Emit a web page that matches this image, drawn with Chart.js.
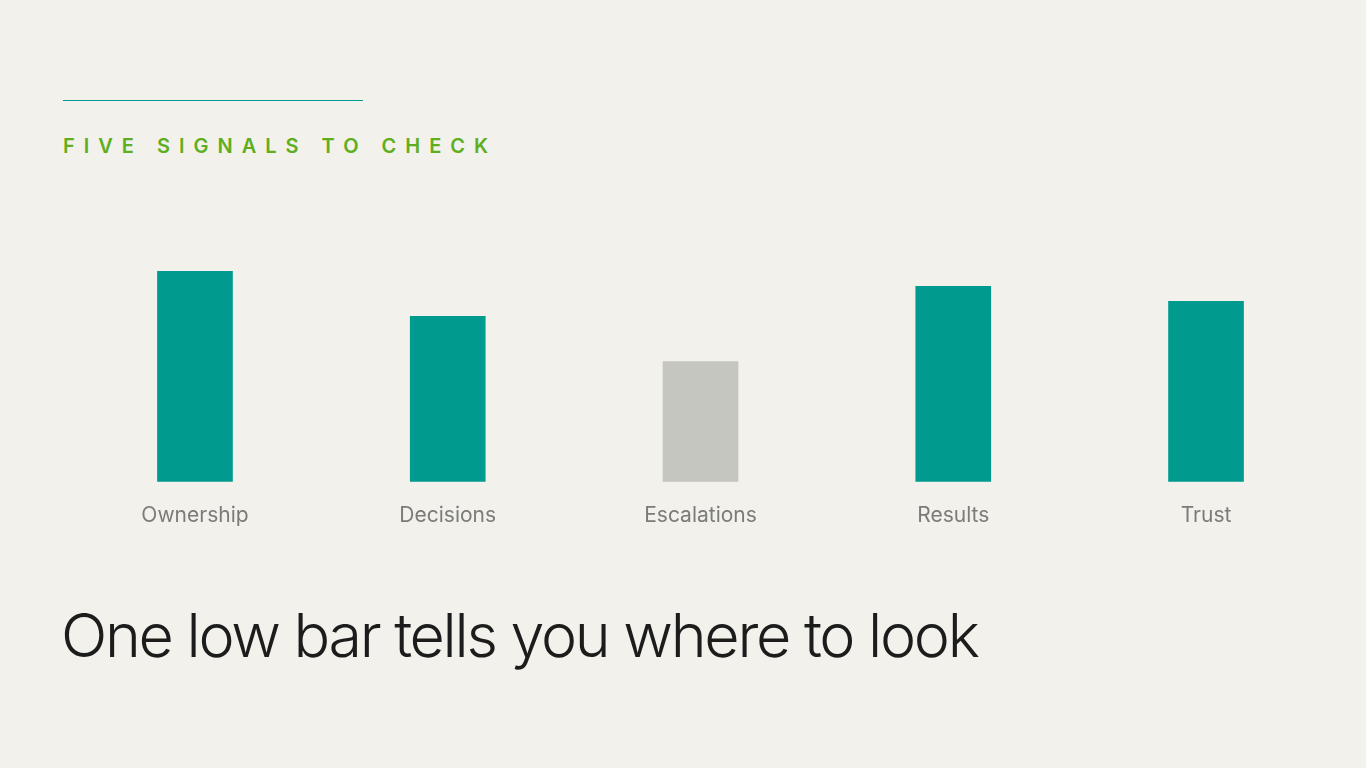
<!DOCTYPE html>
<html>
<head>
<meta charset="utf-8">
<script src="https://cdn.jsdelivr.net/npm/chart.js@4"></script>
<style>
  html, body { margin: 0; padding: 0; background: #f2f1ec; }
  body { width: 1366px; height: 768px; position: relative; overflow: hidden; font-family: Inter, "Noto Sans", sans-serif; }
  .rule { position: absolute; left: 63px; top: 100px; width: 300px; height: 1px; background: #009a8f; }
  .kicker { position: absolute; left: 63px; top: 134px; font-size: 20px; font-weight: 600; letter-spacing: 9px; color: #5fae1e; }
  .headline { position: absolute; left: 61px; top: 598px; font-size: 61px; font-weight: 300; letter-spacing: -2.3px; color: #1c1c1c; }
  #chartWrap { position: absolute; left: 0; top: 0; width: 1366px; height: 768px; }
</style>
</head>
<body>
<div class="rule"></div>
<div class="kicker">FIVE SIGNALS TO CHECK</div>
<div id="chartWrap"><canvas id="myChart"></canvas></div>
<div class="headline">One low bar tells you where to look</div>
<script>
const signals = ['Ownership', 'Decisions', 'Escalations', 'Results', 'Trust'];
const scores = [70, 55, 40, 65, 60];
const barColors = ['#009a8f', '#009a8f', '#c6c6c0', '#009a8f', '#009a8f'];

ctx = document.getElementById('myChart').getContext('2d');
myChart = new Chart(ctx, {
    type: 'bar',
    data: {
        labels: signals,
        datasets: [{
            data: scores,
            backgroundColor: barColors,
            barThickness: 75
        }]
    },
    options: {
        responsive: true,
        maintainAspectRatio: false,
        animation: false,
        layout: {
            padding: {left: 68.6, right: 33.6, top: 181, bottom: 227}
        },
        plugins: {
            legend: {display: false},
            tooltip: {enabled: false}
        },
        scales: {
            x: {
                grid: {display: false},
                border: {display: false},
                ticks: {
                    color: '#7b7b78',
                    padding: 13,
                    font: {family: 'Inter', size: 21, weight: 400}
                }
            },
            y: {
                display: false,
                min: 0,
                max: 100
            }
        }
    }
});
</script>
</body>
</html>
